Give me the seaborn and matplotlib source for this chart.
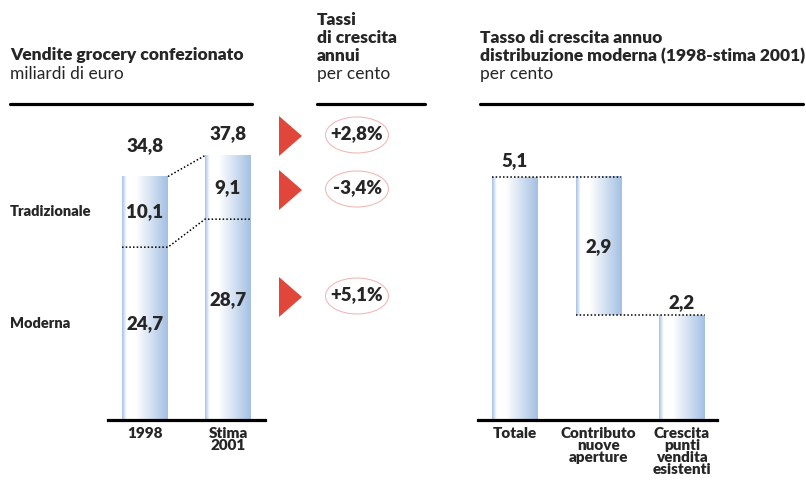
import numpy as np
import pandas as pd
import matplotlib
matplotlib.use("Agg")
import matplotlib.pyplot as plt
import matplotlib.transforms as mtransforms
from matplotlib.colors import LinearSegmentedColormap
from matplotlib.patches import Ellipse, Polygon
import seaborn as sns

# --- data -------------------------------------------------------------
years = ["1998", "Stima\n2001"]
total_sales = [34.8, 37.8]
modern_sales = [24.7, 28.7]
traditional_sales = [10.1, 9.1]
segment_names = ["Tradizionale", "Moderna"]
growth_rates = ["+2,8%", "-3,4%", "+5,1%"]

contrib_labels = ["Totale", "Contributo\nnuove\naperture",
                  "Crescita\npunti\nvendita\nesistenti"]
contrib_values = [5.1, 2.9, 2.2]

# --- style ------------------------------------------------------------
sns.set_theme(style="white")
plt.rcParams["font.family"] = ["Lato", "DejaVu Sans"]
BOLD = "heavy"

W, H = 806, 480
fig = plt.figure(figsize=(W / 100, H / 100), dpi=100)
fig.patch.set_facecolor("white")


def px_box(x0, y0, x1, y1):
    return [x0 / W, 1 - y1 / H, (x1 - x0) / W, (y1 - y0) / H]


def fmt(v):
    return f"{v:.1f}".replace(".", ",")


bar_cmap = LinearSegmentedColormap.from_list(
    "bar", [(0.00, "#a6c1e4"), (0.05, "#d3e0f2"), (0.10, "#ffffff"),
            (0.30, "#ffffff"), (1.00, "#a4c0e3")])
grad = np.linspace(0, 1, 256).reshape(1, -1)


def paint_bars(ax):
    for p in ax.patches:
        x0, w = p.get_x(), p.get_width()
        y0, h = p.get_y(), p.get_height()
        ax.imshow(grad, cmap=bar_cmap, extent=[x0, x0 + w, y0, y0 + h],
                  aspect="auto", origin="lower", zorder=1,
                  interpolation="bilinear")
        p.set_facecolor("none")
        p.set_edgecolor("none")


dot = dict(color="black", lw=1.1, ls=(0, (1, 1.4)), zorder=3)
red = "#e1463b"

# --- overlay for headings, arrows and rates -----------------------------
ov = fig.add_axes([0, 0, 1, 1])
ov.set_xlim(0, W)
ov.set_ylim(H, 0)
ov.axis("off")

ov.text(10, 55, "Vendite grocery confezionato", fontsize=12.5,
        fontweight=BOLD, va="center")
ov.text(10, 74, "miliardi di euro", fontsize=12.5, va="center")
ov.plot([10, 252], [104, 104], color="black", lw=2.3)

for y, t in zip([20, 38, 56], ["Tassi", "di crescita", "annui"]):
    ov.text(317, y, t, fontsize=12.5, fontweight=BOLD, va="center")
ov.text(317, 74, "per cento", fontsize=12.5, va="center")
ov.plot([317, 425], [104, 104], color="black", lw=2.3)

ov.text(480, 38, "Tasso di crescita annuo", fontsize=12.5,
        fontweight=BOLD, va="center")
ov.text(480, 56, "distribuzione moderna (1998-stima 2001)", fontsize=12.5,
        fontweight=BOLD, va="center")
ov.text(480, 74, "per cento", fontsize=12.5, va="center")
ov.plot([480, 803], [104, 104], color="black", lw=2.3)

for yc, rate in zip([136, 190, 297], growth_rates):
    ov.add_patch(Polygon([(279, yc - 20), (279, yc + 20), (302, yc)],
                         closed=True, facecolor=red, edgecolor="none"))
    ov.add_patch(Ellipse((357, yc - 1), 63, 36, facecolor="none",
                         edgecolor="#f2b9b9", lw=0.8))
    ov.text(357, yc - 2, rate, fontsize=13.5, fontweight=BOLD,
            ha="center", va="center")

# --- left: grocery sales by channel ------------------------------------
axL = fig.add_axes(px_box(108, 110, 265, 420))
bwL = 0.554
sales_df = pd.DataFrame({"anno": years, "totale": total_sales})
sns.barplot(data=sales_df, x="anno", y="totale", ax=axL, width=bwL,
            color="white", errorbar=None)
paint_bars(axL)
axL.set_xlim(-0.446, 1.446)
axL.set_ylim(0, 44.3)

# link lines between the two bars
axL.plot([0 + bwL / 2, 1 - bwL / 2], [total_sales[0], total_sales[1]], **dot)
axL.plot([0 - bwL / 2, 0 + bwL / 2, 1 - bwL / 2, 1 + bwL / 2],
         [modern_sales[0], modern_sales[0], modern_sales[1], modern_sales[1]],
         **dot)

modern_pos = [0.56, 0.6]
for i in range(len(years)):
    axL.annotate(fmt(total_sales[i]), (i, total_sales[i]),
                 xytext=(0, 22 if i == 0 else 16), textcoords="offset points",
                 ha="center", va="center", fontsize=13.5, fontweight=BOLD)
    axL.text(i, modern_sales[i] + traditional_sales[i] / 2,
             fmt(traditional_sales[i]), ha="center", va="center",
             fontsize=13.5, fontweight=BOLD, zorder=4)
    axL.text(i, modern_sales[i] * modern_pos[i], fmt(modern_sales[i]),
             ha="center", va="center", fontsize=13.5, fontweight=BOLD,
             zorder=4)

blend = mtransforms.blended_transform_factory(fig.transFigure, axL.transData)
axL.text(10 / W, modern_sales[0] + traditional_sales[0] / 2, segment_names[0],
         transform=blend, fontsize=10.5, fontweight=BOLD, va="center")
axL.text(10 / W, modern_sales[0] * modern_pos[0], segment_names[1],
         transform=blend, fontsize=10.5, fontweight=BOLD, va="center")

# --- right: growth decomposition (waterfall) ----------------------------
axR = fig.add_axes(px_box(478, 110, 717, 420))
bwR = 0.55
contrib_df = pd.DataFrame({"voce": contrib_labels, "valore": contrib_values})
sns.barplot(data=contrib_df, x="voce", y="valore", ax=axR, width=bwR,
            color="white", errorbar=None)
# the new-stores contribution floats on top of the existing-stores growth
bottoms = [0.0, contrib_values[0] - contrib_values[1], 0.0]
for p, b in zip(axR.patches, bottoms):
    p.set_y(b)
paint_bars(axR)
axR.set_xlim(-0.443, 2.419)
axR.set_ylim(0, 6.51)

axR.plot([0 - bwR / 2, 1 + bwR / 2], [contrib_values[0]] * 2, **dot)
axR.plot([1 - bwR / 2, 2 + bwR / 2], [bottoms[1]] * 2, **dot)

axR.annotate(fmt(contrib_values[0]), (0, contrib_values[0]), xytext=(0, 12),
             textcoords="offset points", ha="center", va="center",
             fontsize=13.5, fontweight=BOLD)
axR.text(1, bottoms[1] + contrib_values[1] / 2, fmt(contrib_values[1]),
         ha="center", va="center", fontsize=13.5, fontweight=BOLD, zorder=4)
axR.annotate(fmt(contrib_values[2]), (2, contrib_values[2]), xytext=(0, 9),
             textcoords="offset points", ha="center", va="center",
             fontsize=13.5, fontweight=BOLD)

# --- shared axis styling ------------------------------------------------
for ax in (axL, axR):
    ax.set_facecolor("none")
    for side in ("top", "right", "left"):
        ax.spines[side].set_visible(False)
    ax.spines["bottom"].set_color("black")
    ax.spines["bottom"].set_linewidth(2.3)
    ax.spines["bottom"].set_zorder(5)
    ax.set_yticks([])
    ax.set_xlabel("")
    ax.set_ylabel("")
    ax.tick_params(axis="x", length=0, pad=5)
    for lab in ax.get_xticklabels():
        lab.set_fontweight(BOLD)
        lab.set_fontsize(11)
        lab.set_linespacing(0.92)
        lab.set_verticalalignment("top")

fig.savefig("out.png", dpi=100, facecolor="white")
